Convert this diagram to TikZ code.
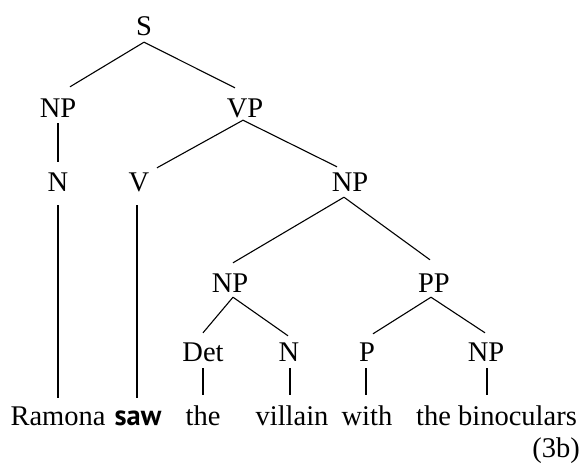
\documentclass[tikz,border=0pt]{standalone}
\usepackage{fontspec}
\setmainfont{Liberation Serif}
\newfontfamily\sawfont{PT Sans}
\begin{document}
\begin{tikzpicture}[x=1pt,y=-1pt,
  lbl/.style={font=\fontsize{28.5}{34}\selectfont, anchor=base, inner sep=0pt, text height=19pt, text depth=0pt},
  edge/.style={line width=1.1pt}]
\useasboundingbox (0,0) rectangle (582,464);
% nonterminals
\node[lbl] (S)   at (144,35)  {S};
\node[lbl] (NPa) at (58,117)  {NP};
\node[lbl] (VP)  at (245,117) {VP};
\node[lbl] (Na)  at (58,191)  {N};
\node[lbl] (V)   at (139,191) {V};
\node[lbl] (NPb) at (350,191) {NP};
\node[lbl] (NPc) at (230,292) {NP};
\node[lbl] (PP)  at (434,292) {PP};
\node[lbl] (Det) at (203,361) {Det};
\node[lbl] (Nb)  at (289,361) {N};
\node[lbl] (P)   at (367,361) {P};
\node[lbl] (NPd) at (486,361) {NP};
% terminals
\node[lbl] (w1) at (58,425)  {Ramona};
\node[lbl] (w2) at (138,425) {\sawfont\bfseries saw};
\node[lbl] (w3) at (203,425) {the};
\node[lbl] (w4) at (292,425) {villain};
\node[lbl] (w5) at (367,425) {with};
\node[lbl] (w6) at (496.5,425) {the binoculars};
\node[lbl, anchor=base east] (lab) at (580,457) {(3b)};
% edges
\draw[edge] ([yshift=-7pt]S.south) -- ([xshift=12pt,yshift=11pt]NPa.north);
\draw[edge] ([yshift=-7pt]S.south) -- ([xshift=-10pt,yshift=10pt]VP.north);
\draw[edge] ([yshift=-6pt]NPa.south) -- ([yshift=10pt]Na.north);
\draw[edge] ([xshift=-2pt,yshift=-3pt]VP.south) -- ([xshift=18pt,yshift=4pt]V.north);
\draw[edge] ([xshift=-2pt,yshift=-3pt]VP.south) -- ([xshift=-13pt,yshift=5pt]NPb.north);
\draw[edge] ([xshift=-6pt,yshift=-6pt]NPb.south) -- ([xshift=3pt,yshift=10pt]NPc.north);
\draw[edge] ([xshift=-6pt,yshift=-6pt]NPb.south) -- ([xshift=-4pt,yshift=13pt]PP.north);
\draw[edge] ([xshift=3pt,yshift=-5pt]NPc.south) -- ([yshift=9pt]Det.north);
\draw[edge] ([xshift=3pt,yshift=-5pt]NPc.south) -- ([xshift=-1pt,yshift=6pt]Nb.north);
\draw[edge] ([xshift=-3pt,yshift=-5pt]PP.south) -- ([xshift=6pt,yshift=8pt]P.north);
\draw[edge] ([xshift=-3pt,yshift=-5pt]PP.south) -- ([xshift=-1pt,yshift=9pt]NPd.north);
% unary
\draw[edge] ([yshift=-14pt]Na.south) -- ([yshift=8pt]w1.north);
\draw[edge] ([xshift=-2pt,yshift=-14pt]V.south) -- ([xshift=-1pt,yshift=8pt]w2.north);
\draw[edge] ([yshift=-7pt]Det.south) -- ([yshift=11pt]w3.north);
\draw[edge] ([xshift=1pt,yshift=-7pt]Nb.south) -- ([xshift=-2pt,yshift=11pt]w4.north);
\draw[edge] ([xshift=-1pt,yshift=-7pt]P.south) -- ([xshift=-1pt,yshift=11pt]w5.north);
\draw[edge] ([xshift=1pt,yshift=-7pt]NPd.south) -- ([xshift=-9.5pt,yshift=11pt]w6.north);
\end{tikzpicture}
\end{document}
